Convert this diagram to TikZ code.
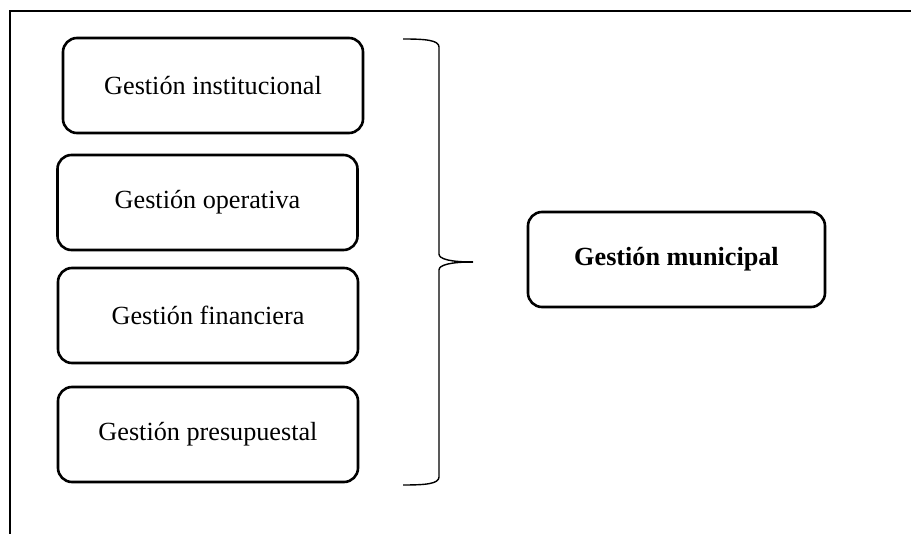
\documentclass[tikz,border=0pt]{standalone}
\usepackage{fontspec}
\setmainfont{Liberation Serif}
\begin{document}
\begin{tikzpicture}[x=1pt,y=-1pt,
  box/.style={draw=black, line width=2.6pt, rounded corners=14pt,
    minimum width=300pt, minimum height=95pt, inner sep=0pt,
    font=\fontsize{26.2}{30}\selectfont},
  frame/.style={line width=2.6pt, line cap=rect},
  bracestroke/.style={line width=1.4pt}]
  \useasboundingbox (0,0) rectangle (911,534);

  % open frame: left and top edges only
  \draw[frame] (10,534) -- (10,11) -- (911,11);

  % the four components
  \node[box] (inst) at (213,85.5)  {Gestión institucional};
  \node[box] (oper) at (207.5,202.5) {Gestión operativa};
  \node[box] (fin)  at (208,315.5) {Gestión financiera};
  \node[box] (pres) at (208,434.5) {Gestión presupuestal};

  % the whole they make up
  \node[box, minimum width=297pt, font=\fontsize{26.2}{30}\selectfont\bfseries]
    (mun) at (676.5,259.5) {Gestión municipal};

  % curly brace grouping the components
  \coordinate (btop) at (403,39);
  \coordinate (bbot) at (403,485);
  \coordinate (btip) at (473,262);
  \draw[bracestroke] (btop) .. controls (425,39) and (439,40) .. (439,47)
    -- (439,254) .. controls (439,259) and (450,262) .. (btip)
    .. controls (450,262) and (439,265) .. (439,270)
    -- (439,477) .. controls (439,484) and (425,485) .. (bbot);
  \draw[line width=2.6pt] (456,262) -- (btip);
\end{tikzpicture}
\end{document}
